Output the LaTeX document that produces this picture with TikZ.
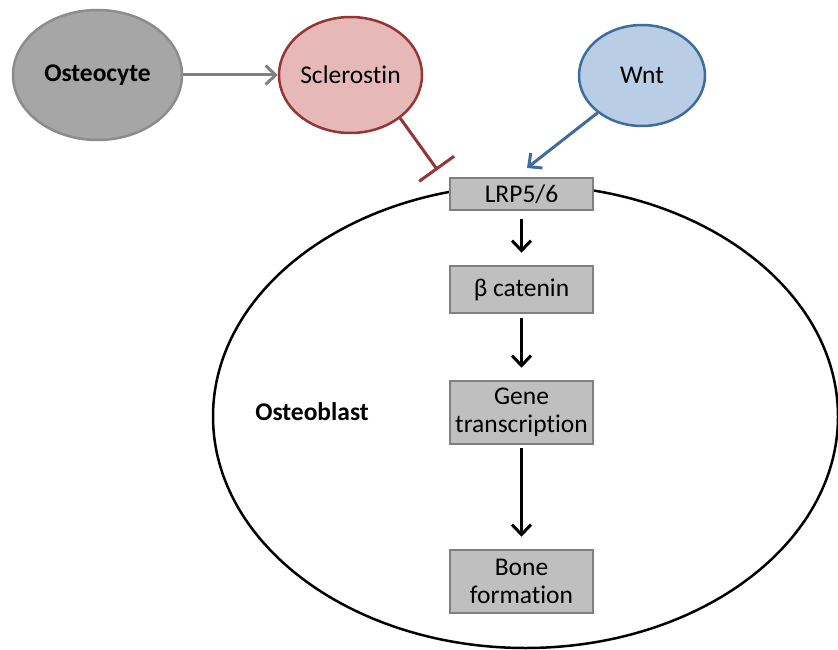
\documentclass[tikz,border=0pt]{standalone}
\usepackage{fontspec}
\setmainfont{Carlito}[Ligatures=NoCommon]
\usetikzlibrary{shapes.geometric,arrows.meta}
\definecolor{ocyfill}{HTML}{A6A6A6}
\definecolor{ocydraw}{HTML}{8C8C8C}
\definecolor{sclfill}{HTML}{E6B9B8}
\definecolor{scldraw}{HTML}{943634}
\definecolor{wntfill}{HTML}{B9CDE5}
\definecolor{wntdraw}{HTML}{3E6BA0}
\definecolor{boxfill}{HTML}{BFBFBF}
\definecolor{boxdraw}{HTML}{808080}
\definecolor{arrgray}{HTML}{808080}
\tikzset{
  x=1pt, y=-1pt,
  every node/.style={font=\fontsize{25.5}{28}\selectfont, inner sep=0pt, align=center},
  blob/.style={ellipse, line width=2.5pt},
  stepbox/.style={rectangle, fill=boxfill, draw=boxdraw, line width=2.5pt, minimum width=143pt},
  flow/.style={line width=3pt, -{Straight Barb[length=10pt,width=19pt,line width=3pt]}},
}
\begin{document}
\begin{tikzpicture}
\useasboundingbox (0,0) rectangle (838,650);
\begin{scope}
\clip (0,0) rectangle (838,650);
\draw[line width=2.5pt] (525.5,416.5) ellipse [x radius=312.5pt, y radius=231.5pt];
\end{scope}
\node[blob, fill=ocyfill, draw=ocydraw, minimum width=169pt, minimum height=130pt] (ocy) at (97.5,75) {\bfseries Osteocyte};
\node[blob, fill=sclfill, draw=scldraw, minimum width=143pt, minimum height=116pt] (scl) at (350.5,75) {Sclerostin};
\node[blob, fill=wntfill, draw=wntdraw, minimum width=126pt, minimum height=101pt] (wnt) at (642,75.5) {Wnt};
\node[stepbox, minimum height=32pt] (lrp) at (521.5,194) {LRP5/6};
\node[stepbox, minimum height=47pt] (bcat) at (521.5,289.5) {β catenin};
\node[stepbox, minimum height=63pt] (gene) at (521.5,412.5) {Gene\\transcription};
\node[stepbox, minimum height=63pt] (bone) at (521.5,581.5) {Bone\\formation};
\node[font=\fontsize{25.5}{28}\selectfont\bfseries] (oblast) at (312,412) {Osteoblast};
\coordinate (inh) at (437.5,170);
\coordinate (wend) at (527,168);
\draw[flow, draw=arrgray] (ocy.east) -- (scl.west);
\draw[line width=3pt, draw=scldraw, -{Bar[width=43pt,line width=3pt]}] (scl.-41) -- (inh);
\draw[flow, draw=wntdraw] (wnt.-140) -- (wend);
\draw[flow] ([yshift=-8pt]lrp.south) -- ([yshift=12pt]bcat.north);
\draw[flow] ([yshift=-4pt]bcat.south) -- ([yshift=12pt]gene.north);
\draw[flow] ([yshift=-3pt]gene.south) -- ([yshift=12pt]bone.north);
\end{tikzpicture}
\end{document}
